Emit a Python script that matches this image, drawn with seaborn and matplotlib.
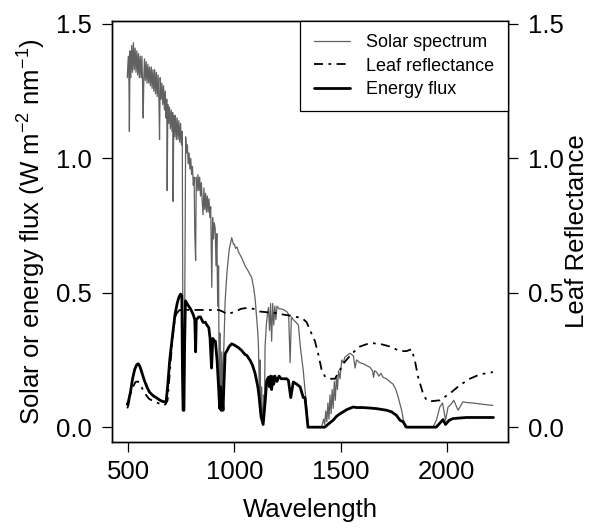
import pandas as pd
import matplotlib
matplotlib.use("Agg")
import matplotlib.pyplot as plt
import seaborn as sns

# solar spectrum (W m-2 nm-1); dense fine structure approximated
solar_wl = [495, 500, 503, 505, 508, 512, 516, 520, 524, 528,
            532, 536, 540, 544, 548, 552, 556, 560, 564, 567,
            570, 573, 576, 580, 584, 588, 592, 596, 600, 604,
            608, 612, 616, 620, 624, 628, 632, 636, 640, 644,
            647, 650, 654, 658, 662, 666, 670, 674, 678, 681,
            683, 686, 690, 694, 698, 702, 706, 709, 711, 714,
            718, 722, 726, 730, 734, 738, 742, 746, 750, 754,
            757, 760, 763, 766, 770, 774, 778, 782, 786, 790,
            794, 798, 802, 806, 810, 813, 817, 820, 824, 828,
            832, 836, 840, 844, 848, 852, 856, 860, 864, 868,
            872, 876, 880, 884, 888, 893, 897, 901, 905, 909,
            913, 917, 921, 925, 928, 931, 934, 937, 940, 943,
            946, 950, 956, 965, 975, 987, 995, 1000, 1005, 1012,
            1020, 1034, 1050, 1065, 1081, 1090, 1097, 1105, 1110, 1113,
            1117, 1120, 1124, 1128, 1132, 1135, 1138, 1141, 1144, 1150,
            1155, 1160, 1165, 1170, 1175, 1180, 1185, 1190, 1195, 1200,
            1210, 1222, 1235, 1246, 1255, 1262, 1268, 1277, 1290, 1301,
            1310, 1318, 1324, 1332, 1340, 1348, 1380, 1410, 1420, 1425,
            1430, 1435, 1440, 1445, 1450, 1455, 1460, 1465, 1470, 1475,
            1480, 1485, 1490, 1497, 1505, 1512, 1520, 1530, 1544, 1560,
            1568, 1575, 1590, 1607, 1620, 1638, 1650, 1655, 1660, 1669,
            1680, 1690, 1700, 1716, 1730, 1747, 1760, 1771, 1787, 1802,
            1850, 1900, 1935, 1951, 1967, 1980, 1994, 2006, 2020, 2033,
            2053, 2076, 2100, 2123, 2150, 2170, 2195, 2217]
solar_val = [1.30, 1.38, 1.28, 1.10, 1.40, 1.30, 1.42, 1.32, 1.43, 1.33,
             1.41, 1.32, 1.40, 1.31, 1.39, 1.30, 1.38, 1.30, 1.38, 1.28,
             1.15, 1.30, 1.37, 1.29, 1.36, 1.28, 1.35, 1.28, 1.34, 1.27,
             1.34, 1.26, 1.33, 1.25, 1.33, 1.24, 1.32, 1.23, 1.31, 1.22,
             1.07, 1.30, 1.22, 1.28, 1.20, 1.27, 1.18, 1.25, 1.15, 1.22,
             0.88, 1.20, 1.13, 1.19, 1.11, 1.18, 1.10, 1.17, 0.84, 1.16,
             1.08, 1.16, 1.07, 1.15, 1.07, 1.14, 1.06, 1.13, 1.05, 1.10,
             0.30, 0.06, 0.06, 0.50, 1.08, 1.02, 1.05, 0.98, 1.02, 0.96,
             1.00, 0.94, 0.97, 0.90, 0.93, 0.72, 0.62, 0.93, 0.88, 0.94,
             0.88, 0.93, 0.86, 0.91, 0.84, 0.79, 0.89, 0.81, 0.87, 0.80,
             0.86, 0.80, 0.85, 0.78, 0.82, 0.52, 0.78, 0.70, 0.76, 0.74,
             0.60, 0.72, 0.45, 0.60, 0.10, 0.35, 0.08, 0.06, 0.28, 0.06,
             0.22, 0.30, 0.47, 0.58, 0.66, 0.705, 0.68, 0.68, 0.665, 0.67,
             0.65, 0.63, 0.60, 0.58, 0.557, 0.52, 0.48, 0.40, 0.35, 0.30,
             0.12, 0.25, 0.05, 0.15, 0.02, 0.01, 0.12, 0.04, 0.30, 0.38,
             0.42, 0.445, 0.36, 0.46, 0.32, 0.46, 0.38, 0.45, 0.40, 0.45,
             0.44, 0.44, 0.435, 0.43, 0.42, 0.24, 0.41, 0.40, 0.39, 0.38,
             0.30, 0.25, 0.21, 0.14, 0.075, 0.0, 0.0, 0.0, 0.03, 0.01,
             0.06, 0.02, 0.09, 0.03, 0.12, 0.05, 0.14, 0.07, 0.17, 0.10,
             0.19, 0.14, 0.21, 0.18, 0.25, 0.24, 0.26, 0.267, 0.275, 0.265,
             0.22, 0.25, 0.24, 0.236, 0.23, 0.223, 0.21, 0.185, 0.21, 0.205,
             0.19, 0.20, 0.185, 0.18, 0.17, 0.16, 0.14, 0.112, 0.063, 0.0,
             0.0, 0.0, 0.0, 0.026, 0.075, 0.09, 0.026, 0.075, 0.085, 0.10,
             0.063, 0.094, 0.091, 0.09, 0.087, 0.085, 0.083, 0.081]

# leaf reflectance (fraction)
leaf_wl = [495, 500, 511, 522, 534, 545, 555, 565, 574, 585,
           597, 610, 628, 645, 660, 675, 685, 695, 705, 715,
           725, 740, 760, 793, 850, 926, 945, 965, 985, 1005,
           1030, 1060, 1090, 1121, 1160, 1190, 1222, 1260, 1293, 1320,
           1340, 1356, 1379, 1395, 1410, 1425, 1442, 1473, 1495, 1512,
           1552, 1591, 1638, 1685, 1732, 1779, 1810, 1834, 1849, 1865,
           1888, 1905, 1920, 1967, 2014, 2061, 2108, 2155, 2217]
leaf_val = [0.070, 0.081, 0.125, 0.15, 0.168, 0.17, 0.16, 0.145, 0.131, 0.118,
            0.106, 0.10, 0.094, 0.088, 0.081, 0.085, 0.10, 0.20, 0.30, 0.38,
            0.42, 0.435, 0.437, 0.436, 0.436, 0.436, 0.43, 0.42, 0.425, 0.43,
            0.44, 0.444, 0.44, 0.43, 0.427, 0.425, 0.42, 0.415, 0.41, 0.405,
            0.39, 0.36, 0.32, 0.27, 0.215, 0.19, 0.18, 0.18, 0.21, 0.236,
            0.273, 0.30, 0.313, 0.31, 0.30, 0.283, 0.283, 0.29, 0.25, 0.186,
            0.125, 0.10, 0.096, 0.10, 0.125, 0.156, 0.18, 0.196, 0.205]

# energy flux reflected by the leaf (W m-2 nm-1)
flux_wl = [495, 500, 510, 520, 530, 540, 547, 555, 565, 575,
           581, 590, 600, 610, 620, 628, 640, 650, 660, 670,
           678, 685, 695, 707, 720, 730, 738, 746, 752, 755,
           758, 762, 765, 769, 780, 793, 805, 813, 817, 820,
           832, 840, 852, 863, 870, 879, 885, 892, 898, 905,
           910, 918, 925, 930, 935, 937, 942, 946, 950, 956,
           965, 975, 987, 1000, 1020, 1034, 1050, 1058, 1074, 1085,
           1097, 1110, 1115, 1125, 1135, 1145, 1152, 1160, 1165, 1170,
           1175, 1180, 1185, 1190, 1200, 1210, 1220, 1246, 1254, 1265,
           1277, 1293, 1309, 1324, 1332, 1340, 1346, 1425, 1440, 1455,
           1465, 1480, 1497, 1512, 1528, 1559, 1575, 1606, 1640, 1669,
           1716, 1740, 1763, 1779, 1794, 1810, 1950, 1982, 1994, 2010,
           2029, 2092, 2220]
flux_val = [0.085, 0.094, 0.13, 0.18, 0.215, 0.233, 0.236, 0.225, 0.20, 0.175,
            0.163, 0.145, 0.13, 0.122, 0.115, 0.112, 0.105, 0.10, 0.096, 0.094,
            0.095, 0.15, 0.25, 0.334, 0.42, 0.46, 0.483, 0.495, 0.49, 0.20,
            0.063, 0.063, 0.30, 0.47, 0.455, 0.44, 0.42, 0.40, 0.28, 0.40,
            0.41, 0.41, 0.39, 0.39, 0.38, 0.37, 0.33, 0.22, 0.33, 0.32,
            0.32, 0.248, 0.15, 0.07, 0.15, 0.063, 0.12, 0.063, 0.15, 0.273,
            0.285, 0.30, 0.31, 0.305, 0.295, 0.285, 0.27, 0.267, 0.248, 0.23,
            0.20, 0.15, 0.12, 0.04, 0.01, 0.10, 0.174, 0.186, 0.15, 0.19,
            0.14, 0.188, 0.16, 0.19, 0.17, 0.19, 0.18, 0.18, 0.174, 0.11,
            0.168, 0.16, 0.15, 0.11, 0.11, 0.05, 0.0, 0.0, 0.01, 0.02,
            0.026, 0.04, 0.05, 0.057, 0.065, 0.075, 0.073, 0.073, 0.071, 0.069,
            0.063, 0.057, 0.044, 0.026, 0.02, 0.0, 0.0, 0.028, 0.01, 0.025,
            0.032, 0.036, 0.036]

solar = pd.DataFrame({"wl": solar_wl, "val": solar_val})
leaf = pd.DataFrame({"wl": leaf_wl, "val": leaf_val})
flux = pd.DataFrame({"wl": flux_wl, "val": flux_val})

sns.set_theme(style="ticks")
plt.rcParams["font.family"] = ["Liberation Sans", "DejaVu Sans"]
plt.rcParams["mathtext.fontset"] = "custom"
plt.rcParams["mathtext.rm"] = "Liberation Sans"
plt.rcParams["mathtext.it"] = "Liberation Sans"
plt.rcParams["text.color"] = "black"
plt.rcParams["axes.labelcolor"] = "black"

fig = plt.figure(figsize=(5.95, 5.31), dpi=100)
ax = fig.add_axes([0.1882, 0.1682, 0.6655, 0.7928])
ax2 = ax.twinx()

sns.lineplot(data=solar, x="wl", y="val", ax=ax, color="0.38", lw=0.9,
             estimator=None, sort=False, legend=False)
sns.lineplot(data=flux, x="wl", y="val", ax=ax, color="black", lw=2.0,
             estimator=None, sort=False, legend=False)
sns.lineplot(data=leaf, x="wl", y="val", ax=ax2, color="black", lw=1.3,
             estimator=None, sort=False, legend=False)
ax2.lines[0].set_linestyle((0, (5, 3, 1.5, 3)))

for a in (ax, ax2):
    a.set_xlim(423, 2288)
    a.set_ylim(-0.054, 1.512)
    a.set_yticks([0.0, 0.5, 1.0, 1.5])
    a.set_yticklabels(["0.0", "0.5", "1.0", "1.5"])
    a.tick_params(labelsize=18.5, length=7.2, width=0.9, color="black", labelcolor="black")
    for s in a.spines.values():
        s.set_linewidth(1.0)
        s.set_color("black")

ax.set_xticks([500, 1000, 1500, 2000])
ax.tick_params(axis="x", pad=6)
ax.tick_params(axis="y", pad=7)
ax2.tick_params(axis="y", pad=7)
ax.set_xlabel("Wavelength", fontsize=18.5, labelpad=10)
ax.set_ylabel("Solar or energy flux (W m$^{-2}$ nm$^{-1}$)", fontsize=18.5, labelpad=6)
ax2.set_ylabel("Leaf Reflectance", fontsize=18.5, labelpad=1)

handles = [ax.lines[0], ax2.lines[0], ax.lines[1]]
labels = ["Solar spectrum", "Leaf reflectance", "Energy flux"]
leg = ax2.legend(handles, labels, loc="upper right", borderaxespad=0, fontsize=13,
                 frameon=True, fancybox=False, edgecolor="black", framealpha=1,
                 handlelength=2.0, handletextpad=0.9, labelspacing=0.35, borderpad=0.75)
leg.get_frame().set_linewidth(0.9)

fig.savefig("out.png", dpi=100)
